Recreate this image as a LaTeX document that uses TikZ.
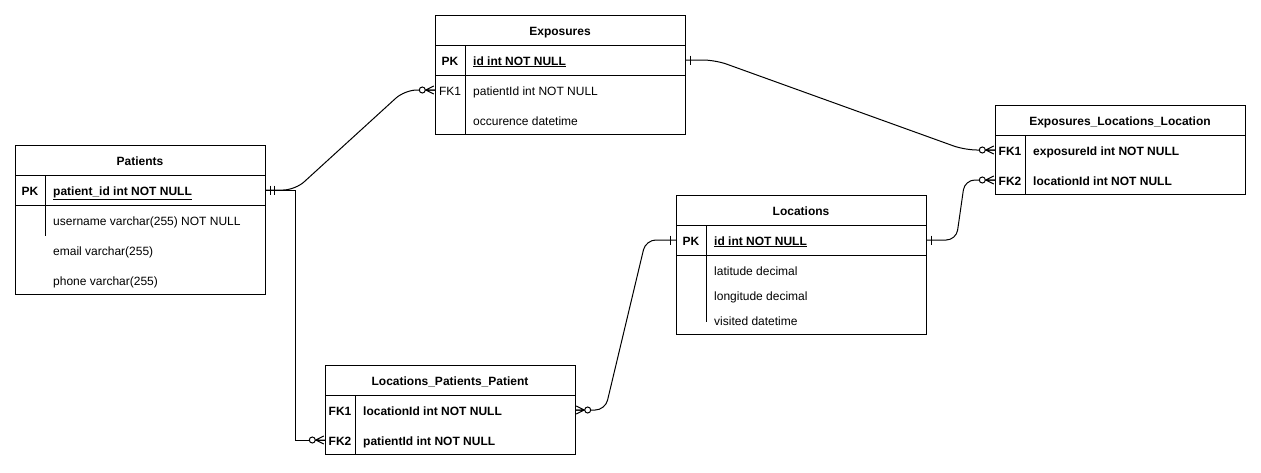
\documentclass[tikz,border=0pt]{standalone}
\usepackage{fontspec}
\setmainfont{Liberation Sans}
\usetikzlibrary{calc}
\tikzset{
  conn/.style={line width=1pt, black},
  tbl/.style={draw, line width=1pt, minimum width=250pt, inner sep=0pt, anchor=north west},
  rowbox/.style={minimum width=250pt, minimum height=30pt, inner sep=0pt},
  fld/.style={inner sep=0pt, font=\fontsize{12}{14}\selectfont},
  sep/.style={line width=1pt},
}
\newcommand\erZeroMany[2]{%
  \begin{scope}[shift={(#1)},xscale=#2]
    \draw[conn] (-9,0) -- (-1,-4) (-9,0) -- (0,0) (-9,0) -- (-1,4);
    \draw[conn,fill=white] (-12.5,0) circle (3pt);
  \end{scope}}
\newcommand\erOne[2]{%
  \begin{scope}[shift={(#1)},xscale=#2]
    \draw[conn] (5,-4.5) -- (5,4.5);
  \end{scope}}
\newcommand\erMandOne[2]{%
  \begin{scope}[shift={(#1)},xscale=#2]
    \draw[conn] (5,-4.5) -- (5,4.5) (9,-4.5) -- (9,4.5);
  \end{scope}}
\begin{document}
\begin{tikzpicture}[x=1pt,y=-1pt]
\useasboundingbox (0,0) rectangle (1261,472);

% ---------- Patients ----------
\node[tbl, minimum height=149pt] (pat) at (15,145) {};
\node[fld, anchor=base] (patT) at (140,165) {\bfseries Patients};
\draw[sep] (15,175) -- (265,175) (15,205) -- (265,205) (45,175) -- (45,236);
\node[rowbox] (patPK) at (140,190) {};
\node[fld, anchor=base] (patPKk) at (30,195) {\bfseries PK};
\node[fld, anchor=base west] (patPKt) at (53,195) {\bfseries\underline{patient\_id int NOT NULL}};
\node[fld, anchor=base west] (patR1) at (53,225) {username varchar(255) NOT NULL};
\node[fld, anchor=base west] (patR2) at (53,255) {email varchar(255)};
\node[fld, anchor=base west] (patR3) at (53,285) {phone varchar(255)};

% ---------- Exposures ----------
\node[tbl, minimum height=119pt] (exp) at (435,15) {};
\node[fld, anchor=base] (expT) at (560,35) {\bfseries Exposures};
\draw[sep] (435,45) -- (685,45) (435,75) -- (685,75) (465,45) -- (465,134);
\node[rowbox] (expPK) at (560,60) {};
\node[rowbox] (expFK1) at (560,90) {};
\node[fld, anchor=base] (expPKk) at (450,65) {\bfseries PK};
\node[fld, anchor=base west] (expPKt) at (473,65) {\bfseries\underline{id int NOT NULL}};
\node[fld, anchor=base] (expFK1k) at (450,95) {FK1};
\node[fld, anchor=base west] (expFK1t) at (473,95) {patientId int NOT NULL};
\node[fld, anchor=base west] (expR2) at (473,125) {occurence datetime};

% ---------- Exposures_Locations_Location ----------
\node[tbl, minimum height=89pt] (ell) at (995,105) {};
\node[fld, anchor=base] (ellT) at (1120,125) {\bfseries Exposures\_Locations\_Location};
\draw[sep] (995,135) -- (1245,135) (1025,135) -- (1025,194);
\node[rowbox] (ellFK1) at (1120,150) {};
\node[rowbox] (ellFK2) at (1120,180) {};
\node[fld, anchor=base] (ellFK1k) at (1010,155) {\bfseries FK1};
\node[fld, anchor=base west] (ellFK1t) at (1033,155) {\bfseries exposureId int NOT NULL};
\node[fld, anchor=base] (ellFK2k) at (1010,185) {\bfseries FK2};
\node[fld, anchor=base west] (ellFK2t) at (1033,185) {\bfseries locationId int NOT NULL};

% ---------- Locations ----------
\node[tbl, minimum height=139pt] (loc) at (676,195) {};
\node[fld, anchor=base] (locT) at (801,215) {\bfseries Locations};
\draw[sep] (676,225) -- (926,225) (676,255) -- (926,255) (706,225) -- (706,322);
\node[rowbox] (locPK) at (801,240) {};
\node[fld, anchor=base] (locPKk) at (691,245) {\bfseries PK};
\node[fld, anchor=base west] (locPKt) at (714,245) {\bfseries\underline{id int NOT NULL}};
\node[fld, anchor=base west] (locR1) at (714,275) {latitude decimal};
\node[fld, anchor=base west] (locR2) at (714,300) {longitude decimal};
\node[fld, anchor=base west] (locR3) at (714,325) {visited datetime};

% ---------- Locations_Patients_Patient ----------
\node[tbl, minimum height=89pt] (lpp) at (325,365) {};
\node[fld, anchor=base] (lppT) at (450,385) {\bfseries Locations\_Patients\_Patient};
\draw[sep] (325,395) -- (575,395) (355,395) -- (355,454);
\node[rowbox] (lppFK1) at (450,410) {};
\node[rowbox] (lppFK2) at (450,440) {};
\node[fld, anchor=base] (lppFK1k) at (340,415) {\bfseries FK1};
\node[fld, anchor=base west] (lppFK1t) at (363,415) {\bfseries locationId int NOT NULL};
\node[fld, anchor=base] (lppFK2k) at (340,445) {\bfseries FK2};
\node[fld, anchor=base west] (lppFK2t) at (363,445) {\bfseries patientId int NOT NULL};

% ---------- Connectors ----------
\draw[conn, rounded corners=12pt] (patPK.east) -- ++(30,0) -- ($(expFK1.west)+(-30,0)$) -- (expFK1.west);
\draw[conn] (patPK.east) -- ++(30,0) |- (lppFK2.west);
\draw[conn, rounded corners=12pt] (expPK.east) -- ++(30,0) -- ($(ellFK1.west)+(-30,0)$) -- (ellFK1.west);
\draw[conn, rounded corners=10pt] (locPK.east) -- ++(30,0) -- ($(ellFK2.west)+(-30,0)$) -- (ellFK2.west);
\draw[conn, rounded corners=10pt] (locPK.west) -- ++(-30,0) -- ($(lppFK1.east)+(30,0)$) -- (lppFK1.east);

% ---------- Markers ----------
\erMandOne{patPK.east}{1}
\erZeroMany{expFK1.west}{1}
\erZeroMany{lppFK2.west}{1}
\erOne{expPK.east}{1}
\erZeroMany{ellFK1.west}{1}
\erOne{locPK.east}{1}
\erZeroMany{ellFK2.west}{1}
\erOne{locPK.west}{-1}
\erZeroMany{lppFK1.east}{-1}
\end{tikzpicture}
\end{document}
